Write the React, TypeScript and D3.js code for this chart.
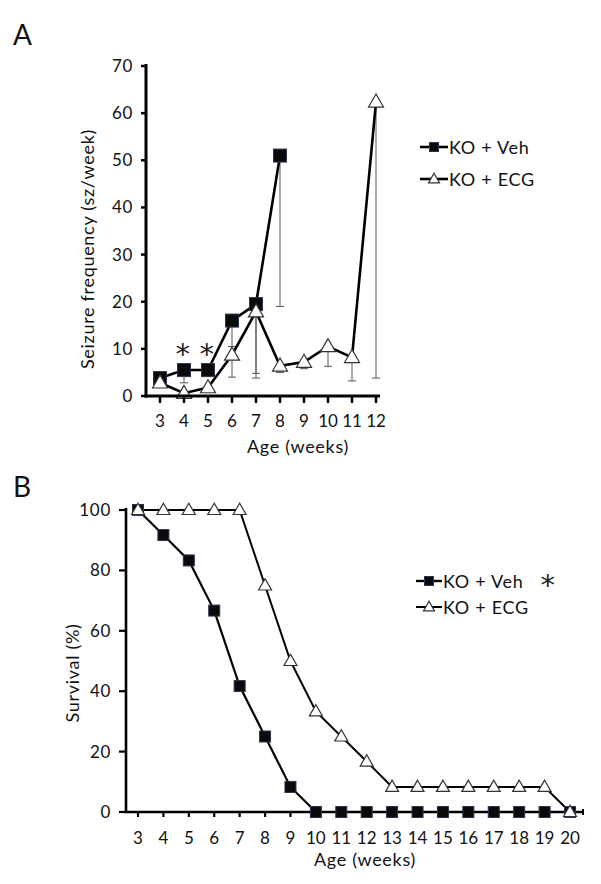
import React from "react";
import * as d3 from "d3";

// Panel A data
const weeksA = [3, 4, 5, 6, 7, 8, 9, 10, 11, 12];
const vehA: (number | null)[] = [3.8, 5.5, 5.5, 16, 19.5, 51, null, null, null, null];
const vehAErrLow: (number | null)[] = [null, 2.8, null, 10.5, 4.8, 19, null, null, null, null];
const ecgA: number[] = [2.8, 0.6, 1.8, 8.7, 17.9, 6.4, 7.2, 10.5, 8.2, 62.4];
const ecgAErrLow: (number | null)[] = [null, null, null, 4, 3.8, 5, 5.8, 6.3, 3.2, 3.8];
const yTicksA = [0, 10, 20, 30, 40, 50, 60, 70];
const starWeeksA = [4, 5];

// Panel B data
const weeksB = [3, 4, 5, 6, 7, 8, 9, 10, 11, 12, 13, 14, 15, 16, 17, 18, 19, 20];
const vehB = [100, 91.7, 83.3, 66.7, 41.7, 25, 8.3, 0, 0, 0, 0, 0, 0, 0, 0, 0, 0, 0];
const ecgB = [100, 100, 100, 100, 100, 75, 50, 33.3, 25, 16.7, 8.3, 8.3, 8.3, 8.3, 8.3, 8.3, 8.3, 0];
const yTicksB = [0, 20, 40, 60, 80, 100];

const legendLabels = ["KO + Veh", "KO + ECG"];

const FONT = "Lato, 'Open Sans', sans-serif";
const LS = 0.7;

function Square({ x, y, s }: { x: number; y: number; s: number }) {
  return <rect x={x - s / 2} y={y - s / 2} width={s} height={s} fill="#0a0a0a" stroke="#2a3550" strokeWidth={1} />;
}
function Tri({ x, y, s }: { x: number; y: number; s: number }) {
  const h = s * 0.87;
  const p = `${x},${y - h * 0.6} ${x - s / 2},${y + h * 0.4} ${x + s / 2},${y + h * 0.4}`;
  return <polygon points={p} fill="#fff" stroke="#333" strokeWidth={1.2} />;
}
function Star({ x, y }: { x: number; y: number }) {
  // y = visual centre
  return (
    <text x={x} y={y + 17} fontSize={29} textAnchor="middle" fill="#222" fontFamily="'DejaVu Sans', sans-serif">
      *
    </text>
  );
}

export default function App() {
  // Panel A scales
  const xA = d3.scaleLinear().domain([3, 12]).range([160, 376]);
  const yA = d3.scaleLinear().domain([0, 70]).range([396, 66]);
  const lineA = d3
    .line<[number, number | null]>()
    .defined((d) => d[1] != null)
    .x((d) => xA(d[0]))
    .y((d) => yA(d[1] as number));
  const vehAPath = lineA(weeksA.map((w, i) => [w, vehA[i]]));
  const ecgAPath = lineA(weeksA.map((w, i) => [w, ecgA[i]]));

  // Panel B scales
  const xB = d3.scaleLinear().domain([3, 20]).range([138, 570]);
  const yB = d3.scaleLinear().domain([0, 100]).range([812, 510]);
  const lineB = d3
    .line<[number, number]>()
    .x((d) => xB(d[0]))
    .y((d) => yB(d[1]));
  const vehBPath = lineB(weeksB.map((w, i) => [w, vehB[i]]));
  const ecgBPath = lineB(weeksB.map((w, i) => [w, ecgB[i]]));

  const errBar = (x: number, y1: number, y2: number, key: string) => (
    <g key={key} stroke="#555" strokeWidth={1}>
      <line x1={x} x2={x} y1={y1} y2={y2} />
      <line x1={x - 4} x2={x + 4} y1={y2} y2={y2} />
    </g>
  );

  return (
    <svg
      width={601}
      height={884}
      style={{ display: "block", position: "absolute", left: 0, top: 0 }}
      fontFamily={FONT}
      letterSpacing={LS}
    >
      <rect width={601} height={884} fill="#fff" />
      {/* Panel A */}
      <text x={13} y={45} fontSize={28} fill="#111" letterSpacing={0}>A</text>
      {weeksA.map((w, i) =>
        vehAErrLow[i] != null && vehA[i] != null
          ? errBar(xA(w), yA(vehA[i] as number), yA(vehAErrLow[i] as number), "ve" + i)
          : null
      )}
      {weeksA.map((w, i) =>
        ecgAErrLow[i] != null ? errBar(xA(w), yA(ecgA[i]), yA(ecgAErrLow[i] as number), "ee" + i) : null
      )}
      <path d={ecgAPath || ""} fill="none" stroke="#000" strokeWidth={2.6} />
      <path d={vehAPath || ""} fill="none" stroke="#000" strokeWidth={2.6} />
      {weeksA.map((w, i) => (vehA[i] != null ? <Square key={"vs" + i} x={xA(w)} y={yA(vehA[i] as number)} s={13} /> : null))}
      {weeksA.map((w, i) => (
        <Tri key={"et" + i} x={xA(w)} y={yA(ecgA[i])} s={15} />
      ))}
      {starWeeksA.map((w) => (
        <Star key={"st" + w} x={xA(w) - 1} y={yA(10.4)} />
      ))}
      {/* axes A */}
      <line x1={146} x2={146} y1={64} y2={397.5} stroke="#000" strokeWidth={3} />
      <line x1={144.5} x2={380} y1={396} y2={396} stroke="#000" strokeWidth={3} />
      {yTicksA.map((t) => (
        <g key={"ya" + t}>
          <line x1={141} x2={146} y1={yA(t)} y2={yA(t)} stroke="#000" strokeWidth={2.5} />
          <text x={133} y={yA(t) + 6} fontSize={17} textAnchor="end" fill="#111">{t}</text>
        </g>
      ))}
      {weeksA.map((w) => (
        <g key={"xa" + w}>
          <line x1={xA(w)} x2={xA(w)} y1={396} y2={403} stroke="#000" strokeWidth={2.5} />
          <text x={xA(w)} y={427} fontSize={17} textAnchor="middle" fill="#111" letterSpacing={0}>{w}</text>
        </g>
      ))}
      <text x={298} y={453} fontSize={18} textAnchor="middle" fill="#111">Age (weeks)</text>
      <text transform={`translate(94,249) rotate(-90)`} fontSize={18} textAnchor="middle" fill="#111">
        Seizure frequency (sz/week)
      </text>
      {/* legend A */}
      <line x1={420} x2={448} y1={147} y2={147} stroke="#000" strokeWidth={2.6} />
      <Square x={434} y={147} s={9} />
      <text x={449} y={153.5} fontSize={18} fill="#111">{legendLabels[0]}</text>
      <line x1={420} x2={448} y1={179} y2={179} stroke="#000" strokeWidth={2.6} />
      <Tri x={434} y={179} s={11} />
      <text x={449} y={185.5} fontSize={18} fill="#111">{legendLabels[1]}</text>

      {/* Panel B */}
      <text x={13} y={497} fontSize={28} fill="#111" letterSpacing={0}>B</text>
      <path d={ecgBPath || ""} fill="none" stroke="#000" strokeWidth={2} />
      <path d={vehBPath || ""} fill="none" stroke="#000" strokeWidth={2.2} />
      {/* axes B */}
      <line x1={126} x2={126} y1={508} y2={813} stroke="#000" strokeWidth={2.6} />
      <line x1={124.7} x2={583} y1={812} y2={812} stroke="#000" strokeWidth={2.6} />
      <line x1={583} x2={583} y1={809} y2={815} stroke="#000" strokeWidth={2} />
      {yTicksB.map((t) => (
        <g key={"yb" + t}>
          <line x1={119} x2={126} y1={yB(t)} y2={yB(t)} stroke="#000" strokeWidth={2.2} />
          <text x={111} y={yB(t) + 6} fontSize={17} textAnchor="end" fill="#111">{t}</text>
        </g>
      ))}
      {weeksB.map((w) => (
        <g key={"xb" + w}>
          <line x1={xB(w)} x2={xB(w)} y1={812} y2={817} stroke="#000" strokeWidth={2.2} />
          <text x={xB(w)} y={844} fontSize={17} textAnchor="middle" fill="#111" letterSpacing={0}>{w}</text>
        </g>
      ))}
      {weeksB.map((w, i) => (
        <Square key={"vb" + i} x={xB(w)} y={yB(vehB[i])} s={11} />
      ))}
      {weeksB.map((w, i) => (
        <Tri key={"eb" + i} x={xB(w)} y={yB(ecgB[i])} s={13} />
      ))}
      <text x={365} y={866} fontSize={18} textAnchor="middle" fill="#111">Age (weeks)</text>
      <text transform={`translate(79,673) rotate(-90)`} fontSize={18} textAnchor="middle" fill="#111">
        Survival (%)
      </text>
      {/* legend B */}
      <line x1={416} x2={442} y1={581} y2={581} stroke="#000" strokeWidth={2.4} />
      <Square x={429} y={581} s={9} />
      <text x={443} y={587.5} fontSize={18} fill="#111">{legendLabels[0]}</text>
      <Star x={548} y={578} />
      <line x1={416} x2={442} y1={607} y2={607} stroke="#000" strokeWidth={2} />
      <Tri x={429} y={607} s={11} />
      <text x={443} y={613.5} fontSize={18} fill="#111">{legendLabels[1]}</text>
    </svg>
  );
}
